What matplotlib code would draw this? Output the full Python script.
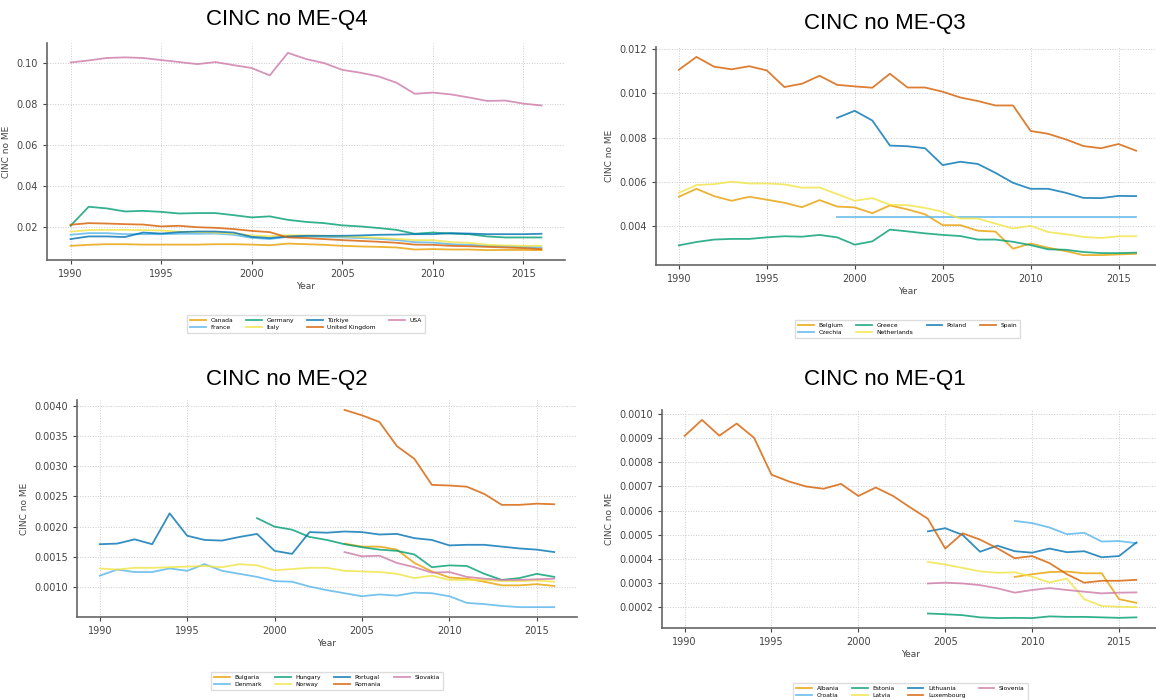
import numpy as np
import matplotlib
matplotlib.use('Agg')
import matplotlib.pyplot as plt

# years 1990-2016; shorter series end in 2016 and start later
YEARS = np.arange(1990, 2017)

# --- Q4 ---
q4_names = ['Canada', 'France', 'Germany', 'Italy', 'Türkiye', 'United Kingdom', 'USA']
canada = [0.0107, 0.0112, 0.0115, 0.0115, 0.0113, 0.0113, 0.0113, 0.0113, 0.0115, 0.0115, 0.0113, 0.0110, 0.0118, 0.0115,
          0.0112, 0.0107, 0.0104, 0.0102, 0.0099, 0.0089, 0.0091, 0.0089, 0.0089, 0.0086, 0.0087, 0.0087, 0.0086]
france = [0.0161, 0.0169, 0.0169, 0.0164, 0.0164, 0.0164, 0.0166, 0.0166, 0.0167, 0.0161, 0.0146, 0.0140, 0.0151, 0.0153,
          0.0151, 0.0148, 0.0145, 0.0141, 0.0135, 0.0125, 0.0123, 0.0115, 0.0112, 0.0107, 0.0105, 0.0102, 0.0099]
germany = [0.0205, 0.0298, 0.0290, 0.0275, 0.0278, 0.0273, 0.0265, 0.0267, 0.0267, 0.0257, 0.0246, 0.0251, 0.0234, 0.0224,
           0.0218, 0.0207, 0.0202, 0.0194, 0.0185, 0.0166, 0.0172, 0.0167, 0.0164, 0.0153, 0.0148, 0.0148, 0.0148]
italy = [0.0176, 0.0184, 0.0185, 0.0185, 0.0184, 0.0182, 0.0176, 0.0174, 0.0172, 0.0167, 0.0158, 0.0154, 0.0159, 0.0158,
         0.0156, 0.0153, 0.0150, 0.0146, 0.0141, 0.0135, 0.0135, 0.0125, 0.0122, 0.0112, 0.0109, 0.0107, 0.0107]
turkiye = [0.0140, 0.0153, 0.0153, 0.0150, 0.0172, 0.0167, 0.0174, 0.0177, 0.0177, 0.0172, 0.0151, 0.0145, 0.0153, 0.0156,
           0.0156, 0.0156, 0.0158, 0.0161, 0.0162, 0.0164, 0.0164, 0.0169, 0.0167, 0.0164, 0.0164, 0.0164, 0.0166]
uk = [0.0210, 0.0218, 0.0216, 0.0213, 0.0211, 0.0202, 0.0205, 0.0198, 0.0195, 0.0189, 0.0180, 0.0174, 0.0148, 0.0145,
      0.0140, 0.0135, 0.0131, 0.0127, 0.0122, 0.0113, 0.0112, 0.0107, 0.0105, 0.0102, 0.0099, 0.0096, 0.0091]
usa = [0.1003, 0.1013, 0.1025, 0.1028, 0.1025, 0.1015, 0.1005, 0.0995, 0.1005, 0.0990, 0.0976, 0.0940, 0.1050, 0.1020,
       0.1000, 0.0967, 0.0953, 0.0935, 0.0904, 0.0850, 0.0856, 0.0847, 0.0832, 0.0815, 0.0817, 0.0802, 0.0793]

# --- Q3 ---
q3_names = ['Belgium', 'Czechia', 'Greece', 'Netherlands', 'Poland', 'Spain']
belgium = [0.00533, 0.00569, 0.00536, 0.00515, 0.00533, 0.00520, 0.00506, 0.00486, 0.00518, 0.00489, 0.00485, 0.00459,
           0.00494, 0.00476, 0.00454, 0.00405, 0.00405, 0.00380, 0.00376, 0.00299, 0.00322, 0.00303, 0.00288, 0.00270,
           0.00270, 0.00273, 0.00276]
czechia = [0.00441] * 18  # 1999-2016
greece = [0.00314, 0.00329, 0.00340, 0.00343, 0.00343, 0.00350, 0.00355, 0.00353, 0.00361, 0.00350, 0.00317, 0.00332,
          0.00385, 0.00377, 0.00368, 0.00361, 0.00356, 0.00340, 0.00340, 0.00330, 0.00315, 0.00296, 0.00294, 0.00284,
          0.00279, 0.00279, 0.00281]
netherlands = [0.00551, 0.00586, 0.00590, 0.00601, 0.00593, 0.00593, 0.00589, 0.00574, 0.00575, 0.00545, 0.00515,
               0.00527, 0.00497, 0.00495, 0.00483, 0.00465, 0.00435, 0.00435, 0.00412, 0.00390, 0.00402, 0.00374,
               0.00364, 0.00352, 0.00347, 0.00355, 0.00355]
poland = [0.00889, 0.00921, 0.00877, 0.00764, 0.00761, 0.00752, 0.00676, 0.00691, 0.00681, 0.00641, 0.00596, 0.00569,
          0.00569, 0.00551, 0.00528, 0.00527, 0.00537, 0.00536]  # 1999-2016
spain = [0.01106, 0.01164, 0.01120, 0.01108, 0.01122, 0.01103, 0.01028, 0.01043, 0.01079, 0.01038, 0.01031, 0.01025,
         0.01088, 0.01026, 0.01026, 0.01007, 0.00981, 0.00965, 0.00945, 0.00945, 0.00830, 0.00817, 0.00792, 0.00762,
         0.00752, 0.00771, 0.00741]

# --- Q2 ---
q2_names = ['Bulgaria', 'Denmark', 'Hungary', 'Norway', 'Portugal', 'Romania', 'Slovakia']
bulgaria = [0.00172, 0.00167, 0.00167, 0.00162, 0.00140, 0.00126, 0.00116, 0.00114, 0.00109, 0.00103, 0.00103,
            0.00105, 0.00102]  # 2004-2016
denmark = [0.00119, 0.00129, 0.00125, 0.00125, 0.00131, 0.00127, 0.00138, 0.00127, 0.00122, 0.00117, 0.00110, 0.00109,
           0.00101, 0.00095, 0.00090, 0.00085, 0.00088, 0.00086, 0.00091, 0.00090, 0.00085, 0.00074, 0.00072, 0.00069,
           0.00067, 0.00067, 0.00067]
hungary = [0.00214, 0.00200, 0.00195, 0.00183, 0.00178, 0.00171, 0.00166, 0.00162, 0.00160, 0.00154, 0.00133, 0.00136,
           0.00135, 0.00122, 0.00112, 0.00115, 0.00122, 0.00117]  # 1999-2016
norway = [0.00131, 0.00129, 0.00132, 0.00132, 0.00133, 0.00134, 0.00135, 0.00133, 0.00138, 0.00136, 0.00128, 0.00130,
          0.00132, 0.00132, 0.00127, 0.00126, 0.00125, 0.00122, 0.00115, 0.00119, 0.00112, 0.00112, 0.00112, 0.00110,
          0.00110, 0.00111, 0.00109]
portugal = [0.00171, 0.00172, 0.00179, 0.00171, 0.00222, 0.00185, 0.00178, 0.00177, 0.00183, 0.00188, 0.00160, 0.00155,
            0.00191, 0.00190, 0.00192, 0.00191, 0.00187, 0.00188, 0.00181, 0.00178, 0.00169, 0.00170, 0.00170, 0.00167,
            0.00164, 0.00162, 0.00158]
romania = [0.00393, 0.00384, 0.00373, 0.00333, 0.00312, 0.00269, 0.00268, 0.00266, 0.00254, 0.00236, 0.00236, 0.00238,
           0.00237]  # 2004-2016
slovakia = [0.00158, 0.00151, 0.00152, 0.00140, 0.00133, 0.00124, 0.00125, 0.00117, 0.00114, 0.00112, 0.00112,
            0.00113, 0.00114]  # 2004-2016

# --- Q1 ---
q1_names = ['Albania', 'Croatia', 'Estonia', 'Latvia', 'Lithuania', 'Luxembourg', 'Slovenia']
albania = [0.000326, 0.000337, 0.000346, 0.000348, 0.000341, 0.000341, 0.000234, 0.000219]  # 2009-2016
croatia = [0.000557, 0.000548, 0.000530, 0.000502, 0.000508, 0.000472, 0.000474, 0.000465]  # 2009-2016
estonia = [0.000175, 0.000172, 0.000168, 0.000159, 0.000156, 0.000157, 0.000156, 0.000163, 0.000161, 0.000161,
           0.000159, 0.000157, 0.000159]  # 2004-2016
latvia = [0.000388, 0.000377, 0.000363, 0.000349, 0.000343, 0.000345, 0.000327, 0.000303, 0.000319, 0.000234,
          0.000206, 0.000203, 0.000201]  # 2004-2016
lithuania = [0.000514, 0.000527, 0.000499, 0.000430, 0.000455, 0.000432, 0.000426, 0.000443, 0.000428, 0.000432,
             0.000407, 0.000412, 0.000468]  # 2004-2016
luxembourg = [0.000908, 0.000974, 0.000909, 0.000959, 0.000900, 0.000748, 0.000720, 0.000699, 0.000690, 0.000710,
              0.000660, 0.000695, 0.000660, 0.000612, 0.000566, 0.000443, 0.000506, 0.000480, 0.000444, 0.000403,
              0.000412, 0.000383, 0.000337, 0.000302, 0.000310, 0.000310, 0.000314]
slovenia = [0.000299, 0.000302, 0.000299, 0.000292, 0.000279, 0.000261, 0.000272, 0.000280, 0.000272, 0.000265,
            0.000258, 0.000261, 0.000262]  # 2004-2016

COLORS = ['#E69F00', '#56B4E9', '#009E73', '#F0E442', '#0072B2', '#D55E00', '#CC79A7']

W, H = 1156, 700


def draw_panel(fig, box, title, title_pos, names, series):
    left, top, right, bottom = box
    ax = fig.add_axes([left / W, 1 - bottom / H, (right - left) / W, (bottom - top) / H])
    for i, (name, vals) in enumerate(zip(names, series)):
        ax.plot(YEARS[-len(vals):], vals, color=COLORS[i], lw=1.3, alpha=0.8, label=name)
    ax.grid(True, linestyle=':', color='#cccccc', linewidth=0.7)
    for side in ['top', 'right']:
        ax.spines[side].set_visible(False)
    for side in ['left', 'bottom']:
        ax.spines[side].set_color('#666666')
        ax.spines[side].set_linewidth(1.2)
    ax.tick_params(labelsize=7, colors='#444444', length=3, width=0.8)
    ax.set_xticks([1990, 1995, 2000, 2005, 2010, 2015])
    ax.set_xlabel('Year', fontsize=6.5, color='#444444', labelpad=2)
    ax.set_ylabel('CINC no ME', fontsize=6.5, color='#444444', labelpad=4)
    h = bottom - top
    ax.legend(loc='upper center', bbox_to_anchor=(0.5, -52 / h), ncol=4, fontsize=4.3,
              handlelength=2.6, columnspacing=2.2, labelspacing=0.3, borderpad=0.5,
              edgecolor='#dddddd', fancybox=False, framealpha=1)
    fig.text(title_pos[0] / W, 1 - title_pos[1] / H, title, ha='center', va='center',
             fontsize=16, family='Liberation Sans')
    return ax


fig = plt.figure(figsize=(W / 100, H / 100), dpi=100)

draw_panel(fig, (47, 43, 565, 260), 'CINC no ME-Q4', (287, 20), q4_names,
           [canada, france, germany, italy, turkiye, uk, usa])
draw_panel(fig, (656, 47, 1159, 265), 'CINC no ME-Q3', (885, 23), q3_names,
           [belgium, czechia, greece, netherlands, poland, spain])
draw_panel(fig, (77, 400, 577, 617), 'CINC no ME-Q2', (287, 380), q2_names,
           [bulgaria, denmark, hungary, norway, portugal, romania, slovakia])
draw_panel(fig, (662, 410, 1159, 628), 'CINC no ME-Q1', (885, 380), q1_names,
           [albania, croatia, estonia, latvia, lithuania, luxembourg, slovenia])

fig.savefig('out.png', dpi=100)
